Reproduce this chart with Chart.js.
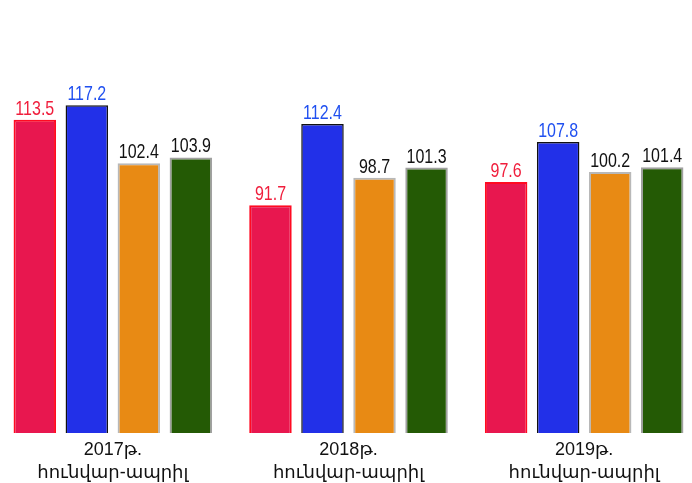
<!DOCTYPE html>
<html>
<head>
<meta charset="utf-8">
<script src="https://cdn.jsdelivr.net/npm/chart.js@4.4.1/dist/chart.umd.min.js"></script>
<style>
  html, body { margin: 0; padding: 0; background: #fff; overflow: hidden; }
  #wrap { position: absolute; left: -5px; top: 0; width: 707px; height: 491px; }
</style>
</head>
<body>
<div id="wrap"><canvas id="chart"></canvas></div>
<script>
// values
const periods = [
  ['2017թ.', 'հունվար-ապրիլ'],
  ['2018թ.', 'հունվար-ապրիլ'],
  ['2019թ.', 'հունվար-ապրիլ']
];
const series1 = [113.5, 91.7, 97.6];
const series2 = [117.2, 112.4, 107.8];
const series3 = [102.4, 98.7, 100.2];
const series4 = [103.9, 101.3, 101.4];

const fills = ['#e8174f', '#2230e8', '#e88a14', '#245a05'];
const edges = ['#ff0a22', '#111111', '#b8b8b8', '#a0a0a0'];
const labelColors = ['#f01e3c', '#2050f0', '#111111', '#111111'];

// value labels above the bars, slightly tall/narrow like the original
const valueLabels = {
  id: 'valueLabels',
  afterDatasetsDraw(chart) {
    const ctx = chart.ctx;
    chart.data.datasets.forEach((ds, i) => {
      const meta = chart.getDatasetMeta(i);
      meta.data.forEach((bar, j) => {
        ctx.save();
        ctx.translate(bar.x, bar.y - 5);
        ctx.scale(1, 1.3);
        ctx.font = '16px "Liberation Sans", Arial, sans-serif';
        ctx.fillStyle = labelColors[i];
        ctx.textAlign = 'center';
        ctx.textBaseline = 'alphabetic';
        ctx.fillText(ds.data[j].toFixed(1), 0, 0);
        ctx.restore();
      });
    });
  }
};

const allSeries = [series1, series2, series3, series4];

new Chart(document.getElementById('chart'), {
  type: 'bar',
  data: {
    labels: periods,
    datasets: allSeries.map((s, i) => ({
      label: 'series ' + (i + 1),
      data: s,
      backgroundColor: fills[i],
      borderColor: edges[i],
      borderWidth: i === 1 ? 1.5 : 2,
      borderSkipped: false,
      categoryPercentage: 0.883,
      barPercentage: 0.817
    }))
  },
  options: {
    responsive: true,
    maintainAspectRatio: false,
    animation: false,
    layout: { padding: { top: 0, bottom: 0 } },
    plugins: {
      legend: { display: false },
      tooltip: { enabled: false }
    },
    scales: {
      x: {
        grid: { display: false, drawTicks: false },
        border: { display: false },
        ticks: {
          padding: 6,
          color: '#111',
          font: { family: '"Liberation Sans", "DejaVu Sans", Arial, sans-serif', size: 18, lineHeight: 1.28 }
        }
      },
      y: {
        display: false,
        min: 33.7,
        max: 144
      }
    }
  },
  plugins: [valueLabels]
});
</script>
</body>
</html>
